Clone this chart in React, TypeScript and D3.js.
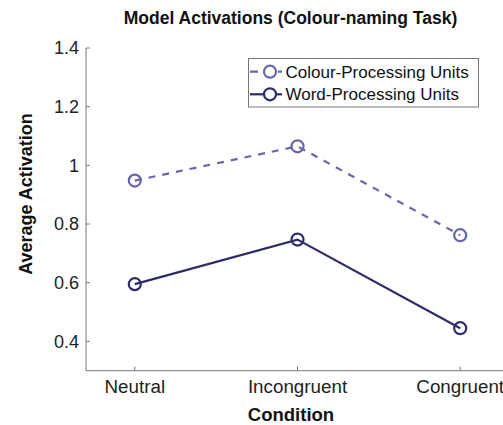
import React from "react";
import * as d3 from "d3";

const categories = ["Neutral", "Incongruent", "Congruent"];
const colourUnits = [0.948, 1.065, 0.762];
const wordUnits = [0.595, 0.747, 0.445];
const yTicks = [0.4, 0.6, 0.8, 1, 1.2, 1.4];
const seriesNames = ["Colour-Processing Units", "Word-Processing Units"];

const W = 503;
const H = 425;
const left = 86;
const right = 503;
const top = 48;
const bottom = 370.7;

const FONT = "'Liberation Sans', Arial, Helvetica, sans-serif";

export default function App() {
  const x = d3.scaleLinear().domain([0.7, 3.3]).range([left, left + 2.6 * 162.7]);
  const y = d3.scaleLinear().domain([0.3, 1.4]).range([bottom, top]);
  const line = d3
    .line<number>()
    .x((_, i) => x(i + 1))
    .y((d) => y(d));

  const series = [
    { name: seriesNames[0], data: colourUnits, color: "#6766aa", dash: "7,7" },
    { name: seriesNames[1], data: wordUnits, color: "#2d2c66", dash: "" },
  ];

  return (
    <svg
      width={W}
      height={H}
      style={{ position: "absolute", left: 0, top: 0, background: "#fff" }}
      fontFamily={FONT}
    >
      <text x={290.5} y={24} textAnchor="middle" fontSize={17.5} fontWeight="bold" fill="#111">
        Model Activations (Colour-naming Task)
      </text>
      {/* axes */}
      <line x1={left} x2={left} y1={top} y2={bottom} stroke="#777" strokeWidth={1} />
      <line x1={left} x2={right} y1={bottom} y2={bottom} stroke="#777" strokeWidth={1} />
      {yTicks.map((t) => (
        <g key={t}>
          <line x1={left} x2={left + 4} y1={y(t)} y2={y(t)} stroke="#777" />
          <text x={left - 7} y={y(t)} dy="0.36em" textAnchor="end" fontSize={18} fill="#222">
            {String(t)}
          </text>
        </g>
      ))}
      {categories.map((c, i) => (
        <g key={c}>
          <line x1={x(i + 1)} x2={x(i + 1)} y1={bottom} y2={bottom - 4} stroke="#777" />
          <text x={x(i + 1)} y={bottom + 22} textAnchor="middle" fontSize={18.8} fill="#222">
            {c}
          </text>
        </g>
      ))}
      <text x={291} y={421} textAnchor="middle" fontSize={18.5} fontWeight="bold" fill="#111">
        Condition
      </text>
      <text
        transform={`translate(32,194) rotate(-90)`}
        textAnchor="middle"
        fontSize={18}
        fontWeight="bold"
        fill="#111"
      >
        Average Activation
      </text>
      {/* series */}
      {series.map((s) => (
        <g key={s.name}>
          <path d={line(s.data) || ""} fill="none" stroke={s.color} strokeWidth={2.2} strokeDasharray={s.dash} />
          {s.data.map((v, i) => (
            <circle key={i} cx={x(i + 1)} cy={y(v)} r={6} fill="none" stroke={s.color} strokeWidth={2.2} />
          ))}
        </g>
      ))}
      {/* legend */}
      <rect x={248.5} y={58.5} width={230} height={48.5} fill="#fff" stroke="#777" strokeWidth={1} />
      {series.map((s, i) => {
        const ly = 71.7 + i * 22.6;
        return (
          <g key={s.name}>
            <line x1={250} x2={282} y1={ly} y2={ly} stroke={s.color} strokeWidth={2.2} strokeDasharray={s.dash ? "8,20" : ""} />
            <circle cx={270} cy={ly} r={6} fill="#fff" stroke={s.color} strokeWidth={2.2} />
            <text x={285.5} y={ly} dy="0.36em" fontSize={17} fill="#111">
              {s.name}
            </text>
          </g>
        );
      })}
    </svg>
  );
}
